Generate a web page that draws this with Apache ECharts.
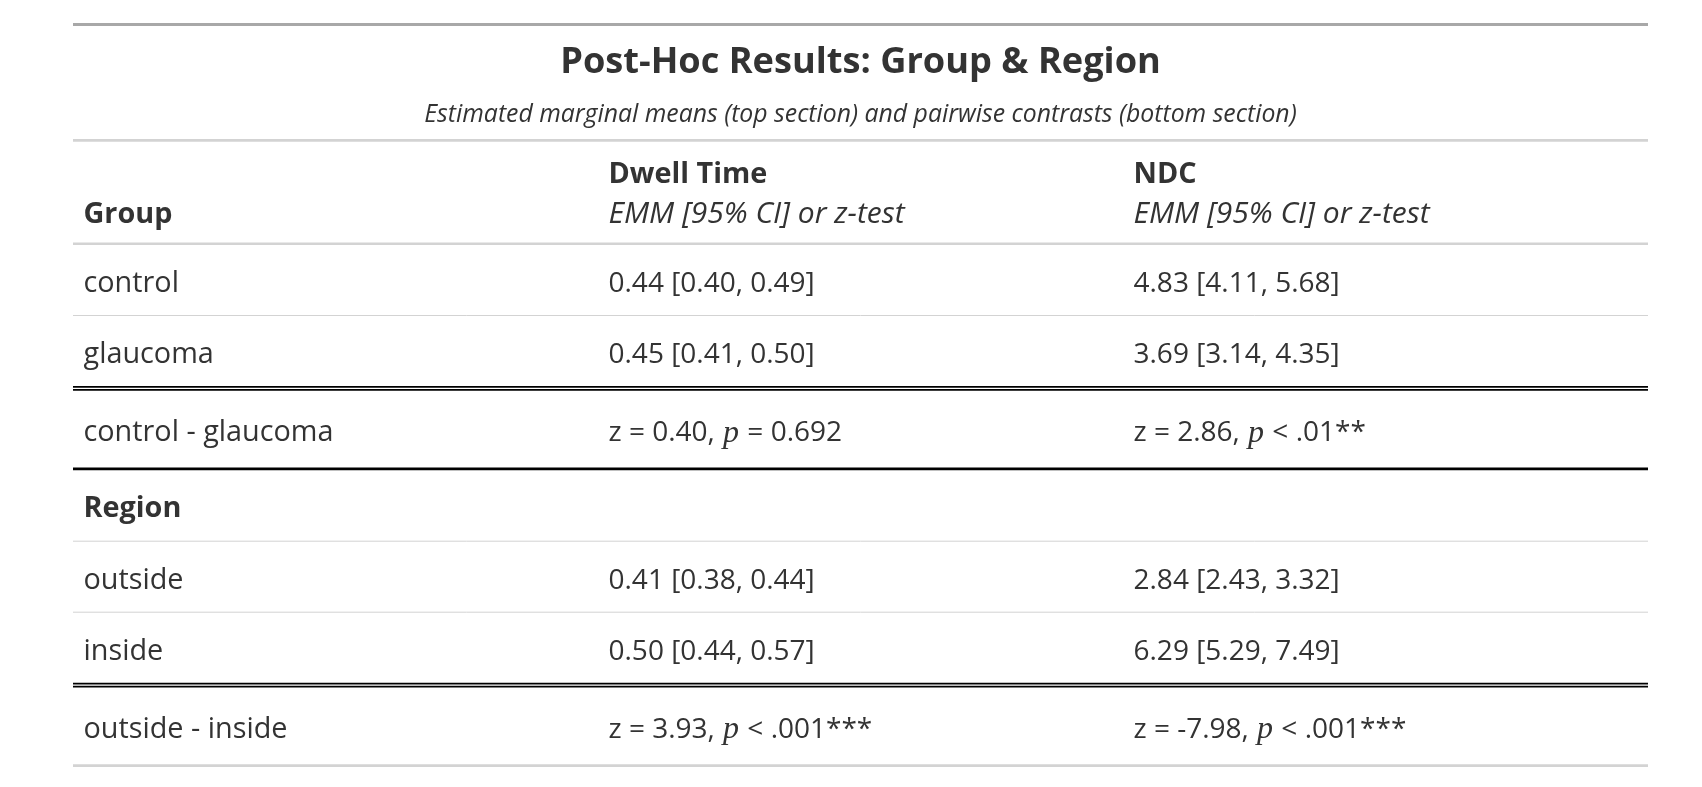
<!DOCTYPE html>
<html>
<head>
<meta charset="utf-8">
<title>Post-Hoc Results</title>
<script src="https://cdn.jsdelivr.net/npm/echarts@6.0.0/dist/echarts.min.js"></script>
<style>
    html, body { margin: 0; padding: 0; background: #fff; }
    #main { width: 1702px; height: 787px; }
</style>
</head>
<body>
<div id="main"></div>
<script>
// ---- data ----
const titleText = 'Post-Hoc Results: Group & Region';
const subtitleText = 'Estimated marginal means (top section) and pairwise contrasts (bottom section)';
const measures = ['Dwell Time', 'NDC'];
const measureNote = 'EMM [95% CI] or z-test';
const factors = ['Group', 'Region'];

const groupLevels = ['control', 'glaucoma'];
const groupDwellEmm = [0.44, 0.45];
const groupDwellLo = [0.40, 0.41];
const groupDwellHi = [0.49, 0.50];
const groupNdcEmm = [4.83, 3.69];
const groupNdcLo = [4.11, 3.14];
const groupNdcHi = [5.68, 4.35];
const groupContrastZ = [0.40, 2.86];          // dwell time, ndc
const groupContrastP = ['= 0.692', '< .01**'];

const regionLevels = ['outside', 'inside'];
const regionDwellEmm = [0.41, 0.50];
const regionDwellLo = [0.38, 0.44];
const regionDwellHi = [0.44, 0.57];
const regionNdcEmm = [2.84, 6.29];
const regionNdcLo = [2.43, 5.29];
const regionNdcHi = [3.32, 7.49];
const regionContrastZ = [3.93, -7.98];
const regionContrastP = ['< .001***', '< .001***'];

// ---- layout / style ----
const FONT = '"Open Sans", "Noto Sans", sans-serif';
const MATH_FONT = '"Liberation Serif", "DejaVu Serif", serif';
const TEXT_COLOR = '#333333';
const BODY_SIZE = 28;
const LABEL_SIZE = 28.8;   // Open Sans letters run a little narrow next to the original font
const colPad = 0.02;       // in column units
// height of each block, and rule drawn under it
const blockHeight = { heading: 113, head: 100.6, level: 70, factor: 70.5, contrast: 76.8 };
const ruleStyle = {
    top: { width: 3, color: '#a8a8a8' },
    heading: { width: 2.8, color: '#d3d3d3' },
    head: { width: 2.6, color: '#d3d3d3' },
    thin: { width: 1, color: '#d3d3d3' },
    double: { width: 4.7, color: '#000' },
    thick: { width: 2.7, color: '#000' },
    bottom: { width: 2.8, color: '#d3d3d3' }
};
const tableTop = 23;

function fmtEmm(e, lo, hi) {
    return e.toFixed(2) + ' [' + lo.toFixed(2) + ', ' + hi.toFixed(2) + ']';
}
function fmtZ(z, p) {
    return 'z = ' + z.toFixed(2) + ', {p|p} ' + p;
}

// ---- rows ----
const rows = [];
rows.push({ kind: 'heading', rule: 'heading' });
rows.push({ kind: 'head', label: factors[0], rule: 'head' });
groupLevels.forEach(function (lv, i) {
    rows.push({
        kind: 'level', label: lv,
        cells: [
            fmtEmm(groupDwellEmm[i], groupDwellLo[i], groupDwellHi[i]),
            fmtEmm(groupNdcEmm[i], groupNdcLo[i], groupNdcHi[i])
        ],
        rule: i === groupLevels.length - 1 ? 'double' : 'thin'
    });
});
rows.push({
    kind: 'contrast', label: groupLevels.join(' - '),
    cells: [fmtZ(groupContrastZ[0], groupContrastP[0]), fmtZ(groupContrastZ[1], groupContrastP[1])],
    rule: 'thick'
});
rows.push({ kind: 'factor', label: factors[1], cells: [], rule: 'thin' });
regionLevels.forEach(function (lv, i) {
    rows.push({
        kind: 'level', label: lv,
        cells: [
            fmtEmm(regionDwellEmm[i], regionDwellLo[i], regionDwellHi[i]),
            fmtEmm(regionNdcEmm[i], regionNdcLo[i], regionNdcHi[i])
        ],
        rule: i === regionLevels.length - 1 ? 'double' : 'thin'
    });
});
rows.push({
    kind: 'contrast', label: regionLevels.join(' - '),
    cells: [fmtZ(regionContrastZ[0], regionContrastP[0]), fmtZ(regionContrastZ[1], regionContrastP[1])],
    rule: 'bottom'
});

// stack blocks vertically
let cursor = tableTop + ruleStyle.top.width;
rows.forEach(function (r) {
    r.top = cursor;
    r.bottom = cursor + blockHeight[r.kind];
    cursor = r.bottom + ruleStyle[r.rule].width;
});

function textEl(x, baseline, text, opt) {
    opt = opt || {};
    const size = opt.size || BODY_SIZE;
    return {
        type: 'text',
        x: x,
        // zrender centres text on y; shift so that the baseline lands where wanted
        y: baseline - size * 0.285,
        style: {
            text: text,
            fill: TEXT_COLOR,
            fontFamily: FONT,
            fontSize: size,
            fontWeight: opt.weight || 'normal',
            fontStyle: opt.style || 'normal',
            align: opt.align || 'left',
            verticalAlign: 'middle',
            rich: {
                p: {
                    fontFamily: MATH_FONT,
                    fontSize: size + 4,
                    fontStyle: 'italic',
                    fontWeight: 'normal',
                    fill: TEXT_COLOR,
                    padding: [0, 1, 0, 1]
                }
            }
        }
    };
}

function ruleEls(x1, x2, y, name) {
    const rs = ruleStyle[name];
    if (name === 'double') {
        const w = 1.7;
        return [y + w / 2, y + rs.width - w / 2].map(function (yy) {
            return { type: 'line', shape: { x1: x1, y1: yy, x2: x2, y2: yy }, style: { stroke: rs.color, lineWidth: w } };
        });
    }
    const yy = y + rs.width / 2;
    return [{ type: 'line', shape: { x1: x1, y1: yy, x2: x2, y2: yy }, style: { stroke: rs.color, lineWidth: rs.width } }];
}

function renderItem(params, api) {
    const r = rows[params.dataIndex];
    const top = api.coord([0, r.top])[1];
    const bottom = api.coord([0, r.bottom])[1];
    const xl = api.coord([0, 0])[0];
    const xr = api.coord([3, 0])[0];
    const colX = function (k) { return api.coord([k + colPad, 0])[0]; };
    let children = [];

    if (r.kind === 'heading') {
        const cx = api.coord([1.5, 0])[0];
        children = ruleEls(xl, xr, top - ruleStyle.top.width, 'top');
        children.push(textEl(cx, top + 47.3, titleText, { size: 36.2, weight: 'bold', align: 'center' }));
        children.push(textEl(cx, top + 96, subtitleText, { size: 24.8, style: 'italic', align: 'center' }));
    }
    else if (r.kind === 'head') {
        children.push(textEl(colX(0), top + 81.2, r.label, { size: LABEL_SIZE, weight: 'bold' }));
        measures.forEach(function (m, k) {
            children.push(textEl(colX(k + 1), top + 41.2, m, { size: LABEL_SIZE, weight: 'bold' }));
            children.push(textEl(colX(k + 1), top + 81.2, measureNote, { size: 30, style: 'italic' }));
        });
    }
    else {
        const base = (top + bottom) / 2 + 12;
        children.push(textEl(colX(0), base, r.label, {
            size: LABEL_SIZE,
            weight: r.kind === 'factor' ? 'bold' : 'normal'
        }));
        r.cells.forEach(function (c, k) {
            children.push(textEl(colX(k + 1), base, c));
        });
    }
    children = children.concat(ruleEls(xl, xr, bottom, r.rule));
    return { type: 'group', children: children };
}

const chart = echarts.init(document.getElementById('main'), null, { renderer: 'canvas' });
chart.setOption({
    backgroundColor: '#ffffff',
    animation: false,
    grid: { left: 73, right: 54, top: 0, bottom: 0 },
    xAxis: { type: 'value', min: 0, max: 3, show: false },
    yAxis: { type: 'value', min: 0, max: 787, inverse: true, show: false },
    series: [{
        type: 'custom',
        renderItem: renderItem,
        encode: { x: 0, y: [1, 2] },
        data: rows.map(function (r, i) { return [i % 3, r.top, r.bottom]; }),
        silent: true,
        clip: false
    }]
});
</script>
</body>
</html>
